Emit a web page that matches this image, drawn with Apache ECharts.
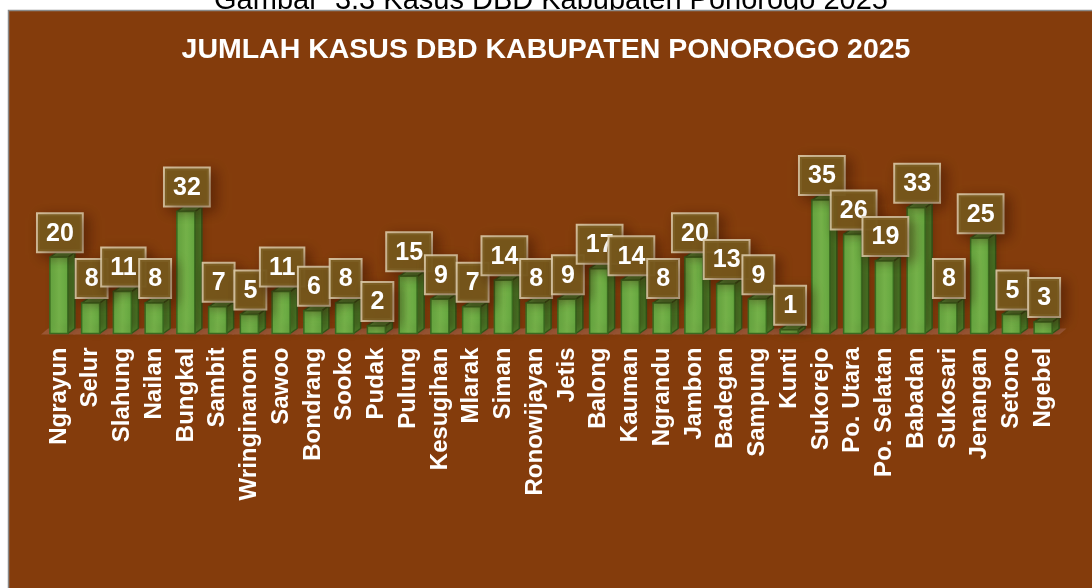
<!DOCTYPE html>
<html>
<head>
<meta charset="utf-8">
<script src="https://cdn.jsdelivr.net/npm/echarts@6/dist/echarts.min.js"></script>
<style>
html,body{margin:0;padding:0;background:#fff;}
#c{width:1092px;height:588px;}
</style>
</head>
<body>
<div id="c"></div>
<script>
const categories = ['Ngrayun','Selur','Slahung','Nailan','Bungkal','Sambit','Wringinanom','Sawoo','Bondrang','Sooko','Pudak','Pulung','Kesugihan','Mlarak','Siman','Ronowijayan','Jetis','Balong','Kauman','Ngrandu','Jambon','Badegan','Sampung','Kunti','Sukorejo','Po. Utara','Po. Selatan','Babadan','Sukosari','Jenangan','Setono','Ngebel'];
const values = [20,8,11,8,32,7,5,11,6,8,2,15,9,7,14,8,9,17,14,8,20,13,9,1,35,26,19,33,8,25,5,3];
const chartTitle = 'JUMLAH KASUS DBD KABUPATEN PONOROGO 2025';
const captionText = 'Gambar  3.3 Kasus DBD Kabupaten Ponorogo 2025';

const FONT = "'Liberation Sans', Arial, sans-serif";
const chart = echarts.init(document.getElementById('c'));

function renderItem(params, api) {
  const idx = api.value(0);
  const val = api.value(1);
  const top = api.coord([idx, val]);
  const base = api.coord([idx, 0]);
  const band = api.size([1, 0])[0];
  const w = 18, d = 7, h = 5;
  const cx = top[0];
  const x0 = cx - w / 2, x1 = cx + w / 2;
  const yT = top[1], yB = base[1];
  const children = [];
  children.push({
    type: 'polygon', z2: 1,
    shape: {points: [[cx - band / 2 - 2, yB + 1], [cx + band / 2 + 0.5, yB + 1], [cx + band / 2 + d + 0.5, yB - h], [cx - band / 2 + d - 2, yB - h]]},
    style: {fill: '#9a5634', stroke: null}
  });
  children.push({
    type: 'polygon', z2: 10,
    shape: {points: [[x1, yT], [x1 + d, yT - h], [x1 + d, yB - h], [x1, yB]]},
    style: {fill: '#4e8a2c', stroke: '#355f1c', lineWidth: 1.5, lineJoin: 'round'}
  });
  children.push({
    type: 'polygon', z2: 10,
    shape: {points: [[x0, yT], [x1, yT], [x1 + d, yT - h], [x0 + d, yT - h]]},
    style: {fill: '#58993a', stroke: '#355f1c', lineWidth: 1.5, lineJoin: 'round'}
  });
  children.push({
    type: 'rect', z2: 11,
    shape: {x: x0, y: yT, width: w, height: yB - yT},
    style: {
      fill: new echarts.graphic.LinearGradient(0, 0, 1, 0, [
        {offset: 0, color: '#64a53f'},
        {offset: 0.5, color: '#78b84c'},
        {offset: 1, color: '#64a53f'}
      ]),
      stroke: '#3a6a1f', lineWidth: 1.5,
      shadowBlur: 10, shadowColor: 'rgba(40,10,0,0.35)', shadowOffsetX: 6, shadowOffsetY: -4
    }
  });
  children.push({
    type: 'text', z2: 100 + idx,
    x: cx + 1, y: yT - 6,
    style: {
      text: String(val),
      fill: '#ffffff',
      font: 'bold 25px ' + FONT,
      align: 'center',
      verticalAlign: 'bottom',
      backgroundColor: 'rgba(118,88,28,0.93)',
      borderColor: 'rgba(222,205,170,0.9)',
      borderWidth: 2,
      padding: [7, 8, 5, 8],
      shadowBlur: 12,
      shadowColor: 'rgba(50,15,0,0.45)',
      shadowOffsetX: 5,
      shadowOffsetY: 4
    }
  });
  return {type: 'group', children: children};
}

const option = {
  backgroundColor: '#ffffff',
  animation: false,
  graphic: [
    {
      type: 'text', z: 0, z2: 0,
      x: 551, y: 15,
      style: {text: captionText, font: '29px ' + FONT, fill: '#000000', align: 'center', verticalAlign: 'bottom'}
    },
    {
      type: 'rect', z: 0, z2: 1,
      shape: {x: 8.5, y: 10.5, width: 1090, height: 590},
      style: {fill: '#843c0c', stroke: '#8a8a8a', lineWidth: 1.5}
    }
  ],
  title: {
    text: chartTitle,
    left: 'center',
    top: 31,
    textStyle: {color: '#ffffff', fontSize: 28.5, fontWeight: 'bold', fontFamily: FONT}
  },
  grid: {left: 43, right: 33, top: 181, bottom: 254.5},
  xAxis: {
    type: 'category',
    data: categories,
    axisLine: {show: false},
    axisTick: {show: false},
    axisLabel: {
      interval: 0, rotate: 90, margin: 14,
      color: '#ffffff', fontSize: 24, fontWeight: 'bold', fontFamily: FONT
    }
  },
  yAxis: {
    type: 'value', min: 0, max: 40, interval: 10,
    show: false, splitLine: {show: false}
  },
  series: [{
    type: 'custom',
    renderItem: renderItem,
    data: values.map((v, i) => [i, v]),
    encode: {x: 0, y: 1},
    clip: false
  }]
};
chart.setOption(option);
</script>
</body>
</html>
